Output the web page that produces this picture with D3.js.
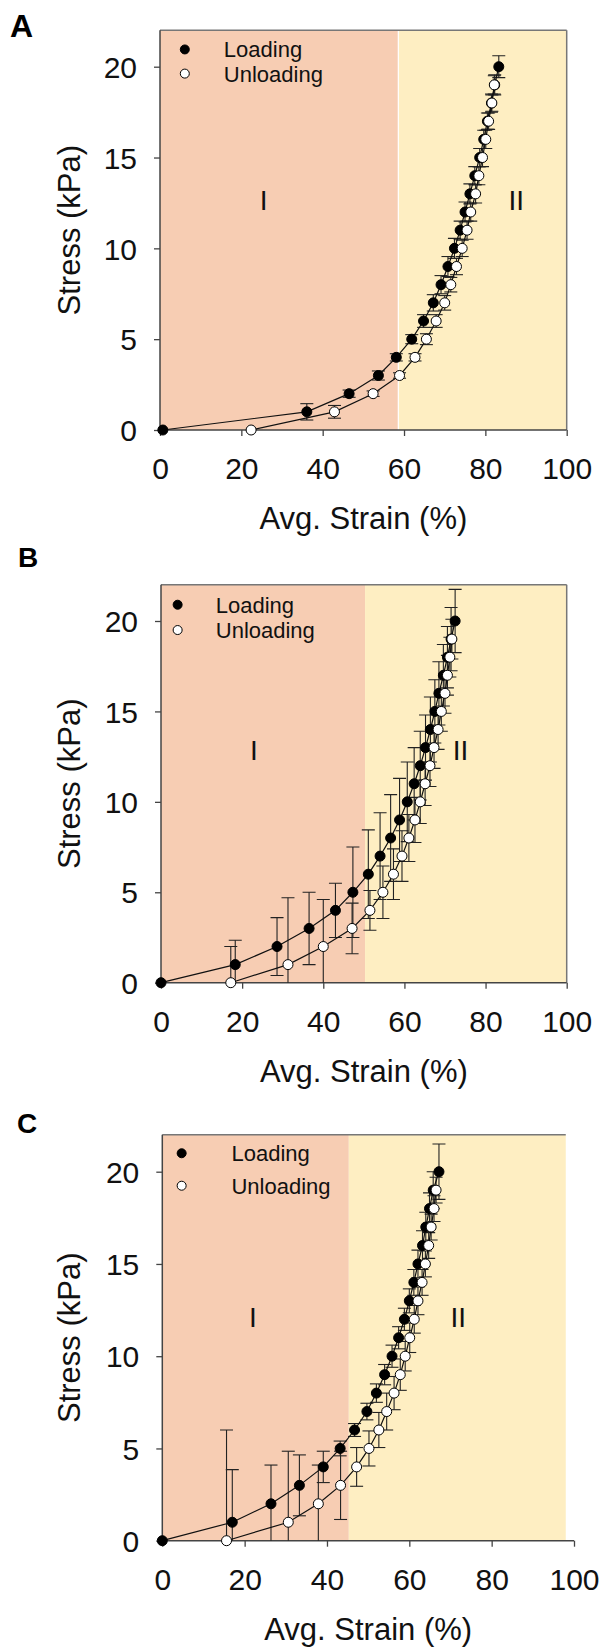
<!DOCTYPE html>
<html>
<head>
<meta charset="utf-8">
<script src="https://cdn.jsdelivr.net/npm/d3@7"></script>
<style>
body { margin: 0; background: #fff; }
text { font-family: "Liberation Sans", Arial, sans-serif; }
</style>
</head>
<body>
<div id="chart"></div>
<script>
// stress levels (kPa)
var stressLoad = [0, 1, 2, 3, 4, 5, 6, 7, 8, 9, 10, 11, 12, 13, 14, 15, 16, 17, 18, 19, 20];
var stressUnload = [0, 1, 2, 3, 4, 5, 6, 7, 8, 9, 10, 11, 12, 13, 14, 15, 16, 17, 18, 19];

// panel A strain (%)
var strainLoadA = [0.7, 36.1, 46.5, 53.7, 58.1, 61.9, 64.8, 67.2, 69.1, 70.8, 72.4, 73.8, 75.0, 76.2, 77.4, 78.6, 79.6, 80.5, 81.5, 82.3, 83.3];
var strainUnloadA = [22.4, 42.9, 52.4, 58.9, 62.7, 65.5, 67.9, 70.0, 71.5, 72.9, 74.3, 75.5, 76.4, 77.6, 78.4, 79.3, 80.1, 80.8, 81.6, 82.2];
var errLoadA = [0, 0.45, 0.2, 0.25, 0.2, 0.25, 0.35, 0.45, 0.5, 0.55, 0.55, 0.5, 0.55, 0.55, 0.5, 0.5, 0.5, 0.45, 0.5, 0.55, 0.6];
var errUnloadA = [0, 0.35, 0.15, 0.15, 0.2, 0.3, 0.35, 0.4, 0.4, 0.45, 0.45, 0.5, 0.5, 0.5, 0.5, 0.5, 0.5, 0.45, 0.45, 0.5];

// panel B
var strainLoadB = [0, 18.3, 28.6, 36.5, 43.0, 47.3, 51.1, 54.0, 56.6, 58.8, 60.7, 62.4, 63.9, 65.2, 66.4, 67.5, 68.5, 69.6, 70.6, 71.5, 72.5];
var strainUnloadB = [17.2, 31.3, 40.0, 47.1, 51.5, 54.7, 57.3, 59.4, 61.1, 62.6, 63.9, 65.1, 66.3, 67.3, 68.3, 69.1, 70.0, 70.6, 71.2, 71.7];
var errLoadB = [0, 1.35, 1.6, 2.0, 1.5, 2.5, 2.45, 2.4, 2.4, 2.3, 2.2, 2.0, 1.9, 1.8, 1.8, 1.75, 1.75, 1.7, 1.7, 1.75, 1.75];
var errUnloadB = [2.0, 3.7, 2.6, 1.4, 1.1, 1.45, 1.4, 1.4, 1.3, 1.25, 1.2, 1.2, 1.15, 1.15, 1.1, 1.1, 1.1, 1.1, 1.1, 1.1];

// panel C
var strainLoadC = [0, 17.0, 26.4, 33.3, 39.1, 43.2, 46.7, 49.7, 52.0, 54.0, 55.8, 57.4, 58.8, 60.0, 61.1, 62.1, 63.2, 64.0, 64.9, 65.8, 67.2];
var strainUnloadC = [15.6, 30.6, 37.9, 43.3, 47.2, 50.2, 52.6, 54.5, 56.3, 57.8, 59.0, 60.1, 61.2, 62.1, 63.1, 63.9, 64.7, 65.3, 66.0, 66.5];
var errLoadC = [0, 2.85, 2.1, 1.65, 0.85, 0.4, 0.35, 0.45, 0.5, 0.55, 0.6, 0.6, 0.6, 0.65, 0.7, 0.75, 0.8, 0.8, 0.85, 1.0, 1.5];
var errUnloadC = [6.0, 3.85, 2.1, 1.85, 1.05, 0.95, 0.95, 1.0, 0.9, 0.85, 0.8, 0.8, 0.75, 0.75, 0.7, 0.7, 0.7, 0.7, 0.7, 0.7];

// region I / II boundary (% strain) for A, B, C
var regionSplit = [58.6, 50.3, 45.3];
var regionEnd = [100, 100, 98];

var xTicks = [0, 20, 40, 60, 80, 100];
var yTicks = [0, 5, 10, 15, 20];
var legendLabels = ["Loading", "Unloading"];
var regionLabels = ["I", "II"];
var panelLetters = ["A", "B", "C"];

var colorI = "#f7cdb3";
var colorII = "#feeec2";

var panels = [
    {load: strainLoadA, unload: strainUnloadA, eLoad: errLoadA, eUnload: errUnloadA,
     x0: 160, x1: 566.7, y0: 430, y20: 66.7, letter: [10, 36.7, 32],
     leg: {mx: 6.1, my: [20.95, 19.62], tx: 15.7}, rl: {i: 25.5, ii: 87.6, y: 12.1}, whiteLine: true},
    {load: strainLoadB, unload: strainUnloadB, eLoad: errLoadB, eUnload: errUnloadB,
     x0: 161, x1: 566.7, y0: 982.7, y20: 621, letter: [18, 566.7, 28],
     leg: {mx: 4.1, my: [20.9, 19.5], tx: 13.5}, rl: {i: 22.9, ii: 73.8, y: 12.3}, whiteLine: false},
    {load: strainLoadC, unload: strainUnloadC, eLoad: errLoadC, eUnload: errUnloadC,
     x0: 162.3, x1: 574, y0: 1540.7, y20: 1171.7, letter: [17, 1133, 28],
     leg: {mx: 4.7, my: [21.0, 19.24], tx: 16.8}, rl: {i: 22.0, ii: 71.9, y: 11.6}, whiteLine: false}
];

var svg = d3.select("#chart")
    .append("svg")
    .attr("width", 605)
    .attr("height", 1648);

panels.forEach(function(p, k) {
    var x = d3.scaleLinear().domain([0, 100]).range([p.x0, p.x1]);
    var unit = (p.y0 - p.y20) / 20;
    var y = d3.scaleLinear().domain([0, 22]).range([p.y0, p.y0 - 22 * unit]);
    var g = svg.append("g");

    var clipId = "clip" + k;
    g.append("clipPath").attr("id", clipId)
        .append("rect")
        .attr("x", x(0) - 10).attr("y", y(22))
        .attr("width", x(100) - x(0) + 20).attr("height", y(0) - y(22));

    // shaded regions
    g.append("rect")
        .attr("x", x(0)).attr("y", y(22))
        .attr("width", x(regionSplit[k]) - x(0))
        .attr("height", y(0) - y(22))
        .style("fill", colorI);
    g.append("rect")
        .attr("x", x(regionSplit[k])).attr("y", y(22))
        .attr("width", x(regionEnd[k]) - x(regionSplit[k]))
        .attr("height", y(0) - y(22))
        .style("fill", colorII);
    if (p.whiteLine) {
        g.append("line")
            .attr("x1", x(regionSplit[k])).attr("x2", x(regionSplit[k]))
            .attr("y1", y(22)).attr("y2", y(0))
            .style("stroke", "#fff").style("stroke-width", 1.2);
    }

    // frame top / right
    g.append("line")
        .attr("x1", x(0)).attr("x2", x(regionEnd[k]))
        .attr("y1", y(22)).attr("y2", y(22))
        .style("stroke", "#777").style("stroke-width", 1.5);
    if (regionEnd[k] === 100) {
        g.append("line")
            .attr("x1", x(100)).attr("x2", x(100))
            .attr("y1", y(22)).attr("y2", y(0))
            .style("stroke", "#777").style("stroke-width", 1.5);
    }

    // axes
    var xAxis = g.append("g")
        .attr("transform", "translate(0," + y(0) + ")")
        .call(d3.axisBottom(x).tickValues(xTicks).tickSize(6).tickSizeOuter(0).tickPadding(22));
    var yAxis = g.append("g")
        .attr("transform", "translate(" + x(0) + ",0)")
        .call(d3.axisLeft(y).tickValues(yTicks).tickSize(6).tickSizeOuter(0).tickPadding(17));
    [xAxis, yAxis].forEach(function(ax) {
        ax.select(".domain").style("stroke", "#444").style("stroke-width", 1.5);
        ax.selectAll(".tick line").style("stroke", "#444").style("stroke-width", 1.3);
        ax.selectAll(".tick text")
            .style("font-family", "'Liberation Sans', Arial, sans-serif")
            .style("font-size", "30px")
            .style("fill", "#111");
    });
    yAxis.selectAll(".tick text").attr("dy", "0.355em");
    yAxis.select(".domain").attr("d", "M0," + y(0) + "V" + y(22));
    xAxis.select(".domain").attr("d", "M" + x(0) + ",0H" + x(100));

    // axis titles
    g.append("text")
        .attr("x", x(50)).attr("y", y(0) + 99)
        .attr("text-anchor", "middle")
        .style("font-size", "31px").style("fill", "#111")
        .text("Avg. Strain (%)");
    g.append("text")
        .attr("transform", "translate(80," + y(11) + ") rotate(-90)")
        .attr("text-anchor", "middle")
        .style("font-size", "31px").style("fill", "#111")
        .text("Stress (kPa)");

    // panel letter
    g.append("text")
        .attr("x", p.letter[0]).attr("y", p.letter[1])
        .style("font-size", p.letter[2] + "px").style("font-weight", "bold")
        .text(panelLetters[k]);

    // region labels
    g.append("text")
        .attr("x", x(p.rl.i)).attr("y", y(p.rl.y))
        .attr("text-anchor", "middle")
        .style("font-size", "28px").style("fill", "#111")
        .text(regionLabels[0]);
    g.append("text")
        .attr("x", x(p.rl.ii)).attr("y", y(p.rl.y))
        .attr("text-anchor", "middle")
        .style("font-size", "28px").style("fill", "#111")
        .text(regionLabels[1]);

    var series = [
        {xs: p.load, ys: stressLoad, es: p.eLoad, fill: "#000"},
        {xs: p.unload, ys: stressUnload, es: p.eUnload, fill: "#fff"}
    ];

    var plot = g.append("g").attr("clip-path", "url(#" + clipId + ")");

    // error bars
    series.forEach(function(s) {
        var pts = s.xs.map(function(d, i) {
            return {x: d, y: s.ys[i], e: s.es[i]};
        }).filter(function(d) { return d.e > 0; });
        var eb = plot.append("g")
            .style("stroke", "#222")
            .style("stroke-width", 1.1)
            .selectAll("g")
            .data(pts)
            .enter()
            .append("g");
        eb.append("line")
            .attr("x1", function(d) { return x(d.x); })
            .attr("x2", function(d) { return x(d.x); })
            .attr("y1", function(d) { return y(d.y + d.e); })
            .attr("y2", function(d) { return y(d.y - d.e); });
        eb.append("line")
            .attr("x1", function(d) { return x(d.x) - 6.5; })
            .attr("x2", function(d) { return x(d.x) + 6.5; })
            .attr("y1", function(d) { return y(d.y + d.e); })
            .attr("y2", function(d) { return y(d.y + d.e); });
        eb.append("line")
            .attr("x1", function(d) { return x(d.x) - 6.5; })
            .attr("x2", function(d) { return x(d.x) + 6.5; })
            .attr("y1", function(d) { return y(d.y - d.e); })
            .attr("y2", function(d) { return y(d.y - d.e); });
    });

    // lines
    var line = d3.line()
        .x(function(d) { return x(d[0]); })
        .y(function(d) { return y(d[1]); });
    series.forEach(function(s) {
        g.append("path")
            .datum(s.xs.map(function(d, i) { return [d, s.ys[i]]; }))
            .attr("d", line)
            .style("fill", "none")
            .style("stroke", "#111")
            .style("stroke-width", 1.2);
    });

    // markers
    series.forEach(function(s) {
        g.append("g")
            .selectAll("circle")
            .data(s.xs)
            .enter()
            .append("circle")
            .attr("cx", function(d) { return x(d); })
            .attr("cy", function(d, i) { return y(s.ys[i]); })
            .attr("r", 5)
            .style("fill", s.fill)
            .style("stroke", "#000")
            .style("stroke-width", 1);
    });

    // legend
    legendLabels.forEach(function(lab, j) {
        g.append("circle")
            .attr("cx", x(p.leg.mx)).attr("cy", y(p.leg.my[j]))
            .attr("r", 4.5)
            .style("fill", series[j].fill)
            .style("stroke", "#000").style("stroke-width", 1);
        g.append("text")
            .attr("x", x(p.leg.tx)).attr("y", y(p.leg.my[j]) + 7.9)
            .style("font-size", "22px").style("fill", "#111")
            .text(lab);
    });
});
</script>
</body>
</html>
